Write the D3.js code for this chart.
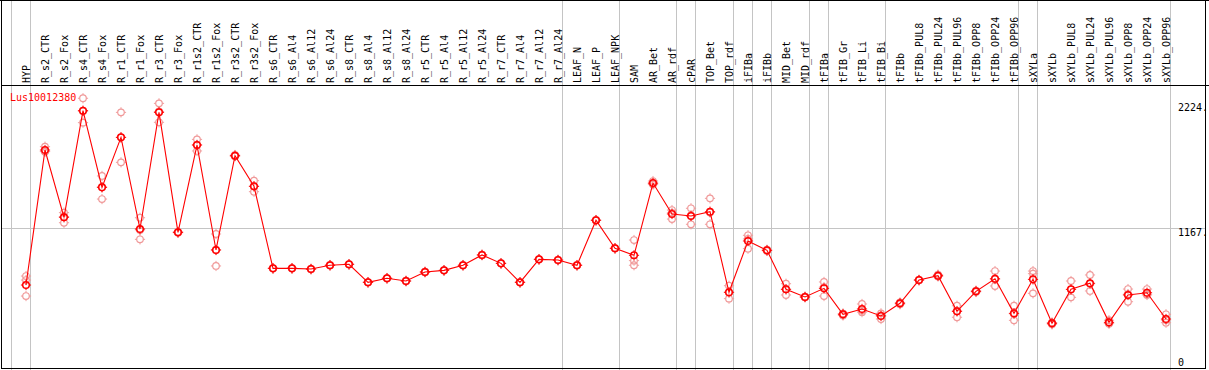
<!DOCTYPE html>
<html>
<head>
<meta charset="utf-8">
<script src="https://cdn.jsdelivr.net/npm/d3@7"></script>
<style>
body { margin: 0; background: #fff; }
svg { display: block; }
text { font-family: "DejaVu Sans Mono", "Liberation Mono", monospace; font-size: 10px; }
</style>
</head>
<body>
<svg id="chart" width="1209" height="370"></svg>
<script>
var geneName = "Lus10012380";
var samples = ["HYP", "R_s2_CTR", "R_s2_Fox", "R_s4_CTR", "R_s4_Fox", "R_r1_CTR", "R_r1_Fox", "R_r3_CTR", "R_r3_Fox",
    "R_r1s2_CTR", "R_r1s2_Fox", "R_r3s2_CTR", "R_r3s2_Fox", "R_s6_CTR", "R_s6_Al4", "R_s6_Al12", "R_s6_Al24",
    "R_s8_CTR", "R_s8_Al4", "R_s8_Al12", "R_s8_Al24", "R_r5_CTR", "R_r5_Al4", "R_r5_Al12", "R_r5_Al24",
    "R_r7_CTR", "R_r7_Al4", "R_r7_Al12", "R_r7_Al24", "LEAF_N", "LEAF_P", "LEAF_NPK", "SAM", "AR_Bet", "AR_rdf",
    "cPAR", "TOP_Bet", "TOP_rdf", "iFIBa", "iFIBb", "MID_Bet", "MID_rdf", "tFIBa", "tFIB_Gr", "tFIB_Li", "tFIB_Bi",
    "tFIBb", "tFIBb_PUL8", "tFIBb_PUL24", "tFIBb_PUL96", "tFIBb_OPP8", "tFIBb_OPP24", "tFIBb_OPP96",
    "sXYLa", "sXYLb", "sXYLb_PUL8", "sXYLb_PUL24", "sXYLb_PUL96", "sXYLb_OPP8", "sXYLb_OPP24", "sXYLb_OPP96"];
var means = [687, 1827, 1259, 2159, 1512, 1934, 1160, 2145, 1132, 1869, 983, 1779, 1521,
    828, 828, 822, 854, 862, 710, 744, 721, 797, 811, 854, 941, 870, 710, 904, 898,
    854, 1234, 997, 938, 1548, 1287, 1270, 1306, 626, 1059, 980, 651, 586, 659, 440, 485, 426,
    533, 729, 766, 465, 634, 740, 448, 735, 364, 651, 702, 372, 603, 622, 400];
var reps = [
    [763, 729, 594], [1855, 1813, 1815], [1298, 1213, 1266], [2264, 2058, 2155], [1608, 1413, 1515],
    [2145, 1723, 1934], [1255, 1073, 1152], [2221, 2061, 2153], [1128, 1136, 1132], [1917, 1819, 1871],
    [1118, 848, 983], [1785, 1775, 1777], [1568, 1475, 1520], [830, 826, 828], [830, 826, 828],
    [824, 820, 822], [856, 852, 854], [864, 860, 862], [712, 708, 710], [746, 742, 744],
    [723, 719, 721], [799, 795, 797], [813, 809, 811], [856, 852, 854], [943, 939, 941],
    [872, 868, 870], [712, 708, 710], [906, 902, 904], [900, 896, 898], [856, 852, 854],
    [1236, 1232, 1234], [999, 995, 997], [1067, 854, 893], [1565, 1535, 1545], [1320, 1244, 1297],
    [1335, 1200, 1275], [1419, 1200, 1299], [681, 572, 625], [1107, 994, 1076], [985, 975, 980],
    [698, 603, 652], [588, 584, 586], [713, 594, 670], [430, 445, 445], [527, 470, 458],
    [448, 400, 430], [525, 540, 534], [731, 727, 729], [775, 760, 763], [512, 415, 468],
    [640, 628, 634], [805, 679, 736], [512, 389, 443], [805, 617, 783], [355, 370, 367],
    [721, 583, 649], [772, 637, 697], [390, 365, 361], [653, 546, 610], [653, 603, 610], [440, 369, 391]
];
// index of first sample in each group, last one closes the plot
var groupStarts = [0, 1, 29, 32, 35, 36, 38, 39, 40, 42, 43, 46, 53, 54, 61];
var yTicks = [2224, 1167, 0];

var svg = d3.select("#chart");
var W = 1209, H = 370;
var headerY = 85.5;

var x = d3.scaleBand()
    .domain(d3.range(samples.length + 1))
    .range([11.5, 11.5 + 19 * (samples.length + 1)])
    .padding(0);
var px = function (i) { return x(i) + 14.5; };
var y = d3.scaleLinear()
    .domain([0, 2224])
    .range([366.4, 103]);

//vertical group separators
svg.selectAll("line.vgrid")
    .data(groupStarts)
    .enter().append("line")
        .attr("class", "vgrid")
        .attr("x1", function (d) { return x(d); })
        .attr("x2", function (d) { return x(d); })
        .attr("y1", 0)
        .attr("y2", H)
        .attr("stroke", "#c4c4c4")
        .attr("stroke-width", 1);
//horizontal grid at middle tick
svg.append("line")
    .attr("x1", 1)
    .attr("x2", 1205)
    .attr("y1", Math.round(y(yTicks[1])) + 0.5)
    .attr("y2", Math.round(y(yTicks[1])) + 0.5)
    .attr("stroke", "#c4c4c4")
    .attr("stroke-width", 1);

//frame
svg.append("rect")
    .attr("x", 1.5)
    .attr("y", 0.5)
    .attr("width", 1204)
    .attr("height", 368)
    .attr("fill", "none")
    .attr("stroke", "#000")
    .attr("stroke-width", 1);
svg.append("line")
    .attr("x1", 1)
    .attr("x2", W)
    .attr("y1", headerY)
    .attr("y2", headerY)
    .attr("stroke", "#000");
svg.append("line")
    .attr("x1", 0)
    .attr("x2", W)
    .attr("y1", 0.5)
    .attr("y2", 0.5)
    .attr("stroke", "#000");

//sample labels
svg.selectAll("text.sample")
    .data(samples)
    .enter().append("text")
        .attr("class", "sample")
        .attr("transform", function (d, i) { return "translate(" + (px(i) + 3.5) + "," + 83 + ") rotate(-90)"; })
        .attr("fill", "#000")
        .text(function (d) { return d; });

//y labels
svg.selectAll("text.ytick")
    .data(yTicks)
    .enter().append("text")
        .attr("class", "ytick")
        .attr("x", 1178)
        .attr("y", function (d) { return Math.min(y(d) + 8, 366); })
        .attr("fill", "#000")
        .text(function (d) { return d === 0 ? "0" : d + "."; });

svg.append("text")
    .attr("x", 10)
    .attr("y", 101)
    .attr("fill", "#ff0000")
    .text(geneName);

function marker(g, cx, cy, color, sw) {
    var r = 3.3;
    g.append("circle")
        .attr("cx", cx)
        .attr("cy", cy)
        .attr("r", r)
        .attr("fill", "none")
        .attr("stroke", color)
        .attr("stroke-width", sw);
    g.append("path")
        .attr("d", "M" + cx + "," + (cy - r - 1.8) + "v1.8M" + cx + "," + (cy + r) + "v1.8" +
            "M" + (cx - r - 1.8) + "," + cy + "h1.8M" + (cx + r) + "," + cy + "h1.8")
        .attr("stroke", color)
        .attr("stroke-width", 1);
}

//replicates
var repG = svg.append("g");
reps.forEach(function (r, i) {
    r.forEach(function (v) { marker(repG, px(i), y(v), "#f09a9a", 1.2); });
});

//mean line
var line = d3.line()
    .x(function (d, i) { return px(i); })
    .y(function (d) { return y(d); });
svg.append("path")
    .datum(means)
    .attr("d", line)
    .attr("fill", "none")
    .attr("stroke", "#ff0000")
    .attr("stroke-width", 1.1);

var meanG = svg.append("g");
means.forEach(function (v, i) { marker(meanG, px(i), y(v), "#ff0000", 1.5); });
</script>
</body>
</html>
